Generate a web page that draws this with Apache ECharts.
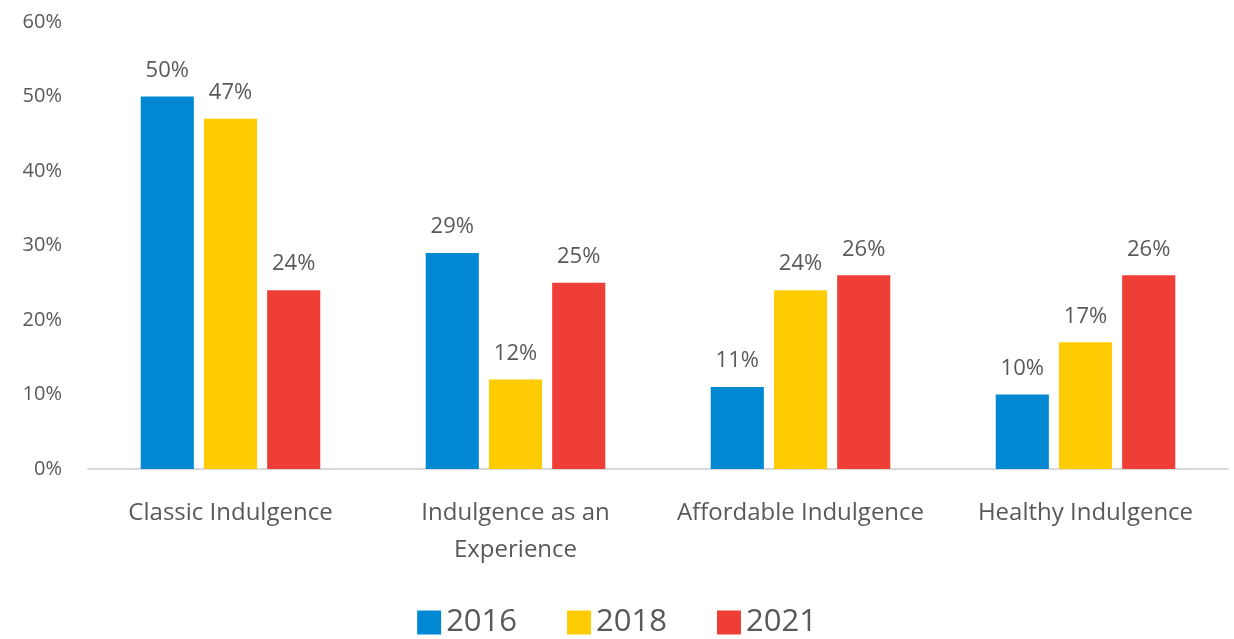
<!DOCTYPE html>
<html><head><meta charset="utf-8">
<script src="https://cdn.jsdelivr.net/npm/echarts@6/dist/echarts.min.js"></script>
<style>html,body{margin:0;padding:0;background:#fff}#c{width:1234px;height:639px}</style>
</head><body><div id="c"></div>
<script>
const categories = ['Classic Indulgence', 'Indulgence as an\nExperience', 'Affordable Indulgence', 'Healthy Indulgence'];
const years = ['2016', '2018', '2021'];
const values2016 = [50, 29, 11, 10];
const values2018 = [47, 12, 24, 17];
const values2021 = [24, 25, 26, 26];
const colors = ['#0089D2', '#FFCC03', '#EF3E36'];
const font = '"Open Sans", sans-serif';

const chart = echarts.init(document.getElementById('c'));
const seriesData = [values2016, values2018, values2021];
chart.setOption({
  animation: false,
  textStyle: { fontFamily: font },
  grid: { left: 88, right: 6, top: 22, bottom: 170 },
  legend: {
    bottom: -4, left: 'center', itemWidth: 24, itemHeight: 24, itemGap: 50,
    icon: 'rect',
    textStyle: { fontSize: 31, color: '#595959', fontFamily: font },
    data: years
  },
  xAxis: {
    type: 'category', data: categories,
    axisLine: { show: true, lineStyle: { color: '#D9D9D9', width: 2 } },
    axisTick: { show: false },
    axisLabel: { interval: 0, fontSize: 24, color: '#595959', margin: 26, lineHeight: 37, fontFamily: font }
  },
  yAxis: {
    type: 'value', min: 0, max: 60, interval: 10,
    axisLine: { show: false }, axisTick: { show: false },
    splitLine: { show: false },
    axisLabel: { formatter: '{value}%', fontSize: 20, color: '#595959', margin: 26, fontFamily: font }
  },
  series: years.map((y, i) => ({
    name: y, type: 'bar', data: seriesData[i],
    barGap: '19%', barCategoryGap: '37%',
    itemStyle: { color: colors[i] },
    label: { show: true, position: 'top', distance: 15, formatter: '{c}%', fontSize: 22, color: '#595959', fontFamily: font }
  }))
});
</script></body></html>
